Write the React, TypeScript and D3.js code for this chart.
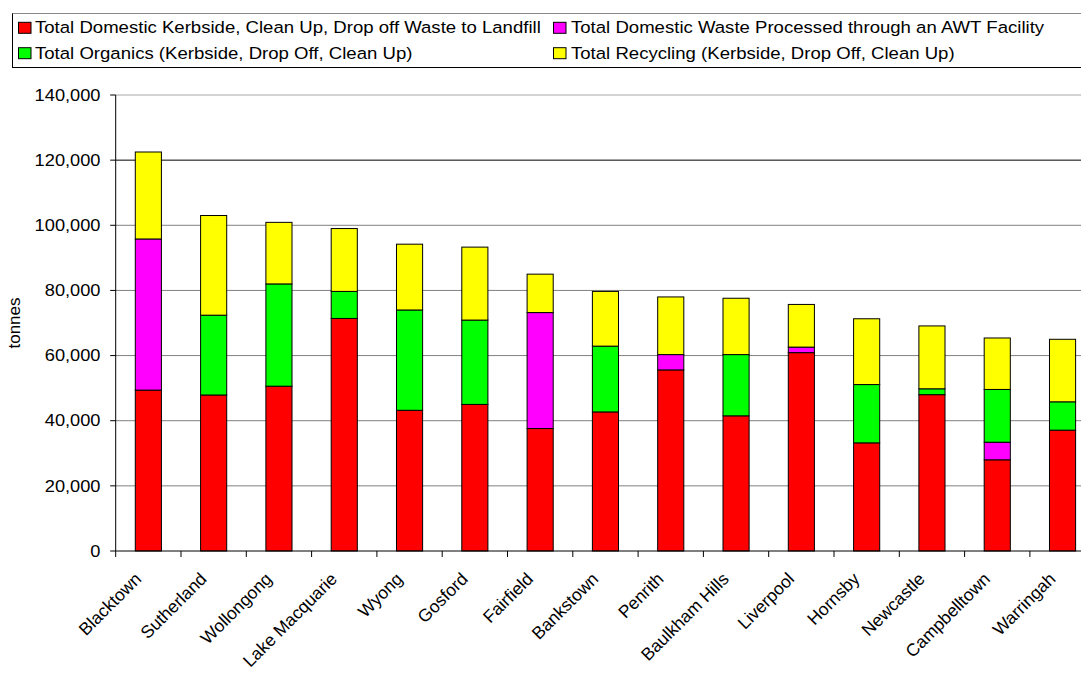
import React from "react";
import * as d3 from "d3";

const councils = [
  "Blacktown", "Sutherland", "Wollongong", "Lake Macquarie", "Wyong", "Gosford",
  "Fairfield", "Bankstown", "Penrith", "Baulkham Hills", "Liverpool", "Hornsby",
  "Newcastle", "Campbelltown", "Warringah",
];

const landfill = [49400, 47900, 50600, 71400, 43200, 45000, 37600, 42700, 55600, 41500, 60900, 33200, 48000, 28000, 37100];
const awt = [46400, 0, 0, 0, 0, 0, 35600, 0, 4700, 0, 1700, 0, 0, 5400, 0];
const organics = [0, 24500, 31400, 8300, 30800, 25900, 0, 20200, 0, 18800, 0, 17900, 1800, 16200, 8700];
const recycling = [26700, 30600, 18900, 19300, 20200, 22400, 11800, 16800, 17700, 17300, 13100, 20200, 19300, 15800, 19200];

const seriesNames = [
  "Total Domestic Kerbside, Clean Up, Drop off Waste to Landfill",
  "Total Domestic Waste Processed through an AWT Facility",
  "Total Organics (Kerbside, Drop Off, Clean Up)",
  "Total Recycling (Kerbside, Drop Off, Clean Up)",
];
const seriesColors = ["#ff0000", "#ff00ff", "#00ff00", "#ffff00"];
const yTicks = [0, 20000, 40000, 60000, 80000, 100000, 120000, 140000];

const W = 1081;
const H = 673;
const FONT = "'Liberation Sans', Arial, sans-serif";
const SX = 1.14;

export default function App() {
  const keys = ["landfill", "awt", "organics", "recycling"];
  const rows = councils.map((c, i) => ({
    name: c,
    landfill: landfill[i],
    awt: awt[i],
    organics: organics[i],
    recycling: recycling[i],
  }));
  const stacked = d3.stack<any>().keys(keys)(rows);

  const x = d3
    .scaleBand<string>()
    .domain(councils)
    .range([115.7, 1095.2])
    .paddingInner(0.6)
    .paddingOuter(0.3);
  const y = d3.scaleLinear().domain([0, 140000]).range([551, 95]);
  const fmt = d3.format(",");
  const step = x.step();
  const x0 = 115.7;

  const gridColor = (v: number) => (v === 140000 ? "#a8a8a8" : v === 120000 ? "#000" : "#808080");

  return (
    <div style={{ position: "fixed", left: 0, top: 0, width: W, height: H, overflow: "hidden", background: "#fff" }}>
      <svg width={W} height={H} style={{ display: "block" }} fontFamily={FONT}>
        <rect x={0} y={0} width={W} height={H} fill="#fff" />
        {yTicks.filter((v) => v > 0).map((v) => (
          <line key={v} x1={x0} x2={W} y1={y(v)} y2={y(v)} stroke={gridColor(v)} strokeWidth={1} />
        ))}
        {stacked.map((s, si) => (
          <g key={s.key}>
            {s.map((d, i) =>
              d[1] - d[0] > 0 ? (
                <rect
                  key={i}
                  x={x(councils[i])}
                  y={y(d[1])}
                  width={x.bandwidth()}
                  height={y(d[0]) - y(d[1])}
                  fill={seriesColors[si]}
                  stroke="#000"
                  strokeWidth={1}
                />
              ) : null
            )}
          </g>
        ))}
        <line x1={x0} x2={x0} y1={95} y2={551} stroke="#000" />
        {yTicks.map((v) => (
          <g key={v}>
            <line x1={x0 - 5.5} x2={x0} y1={y(v)} y2={y(v)} stroke="#000" />
            <text
              transform={`translate(100.5,${y(v) + 5.7}) scale(${SX},1)`}
              textAnchor="end"
              fontSize={16}
              fill="#000"
            >
              {fmt(v)}
            </text>
          </g>
        ))}
        <text transform={`translate(20,323) rotate(-90)`} textAnchor="middle" fontSize={17} fill="#000">
          tonnes
        </text>
        <line x1={x0} x2={W} y1={551} y2={551} stroke="#000" />
        {councils.map((c, i) => (
          <line key={c} x1={x0 + i * step} x2={x0 + i * step} y1={551} y2={557} stroke="#000" />
        ))}
        {councils.map((c) => {
          const cx = (x(c) as number) + x.bandwidth() / 2;
          return (
            <text
              key={c}
              transform={`translate(${cx - 6},580) rotate(-45)`}
              textAnchor="end"
              fontSize={17.5}
              fill="#000"
            >
              {c}
            </text>
          );
        })}
        <rect x={12.5} y={13.5} width={1100} height={54} fill="none" stroke="#000" />
        <line x1={12.5} x2={W} y1={13.5} y2={13.5} stroke="#888" />
        {seriesNames.map((n, i) => {
          const col = i === 0 || i === 2 ? 0 : 1;
          const row = i < 2 ? 0 : 1;
          const sx = col === 0 ? 18.5 : 553.5;
          const tx = col === 0 ? 35 : 571;
          const ty = row === 0 ? 33.3 : 58.7;
          return (
            <g key={n}>
              <rect x={sx} y={ty - 11} width={12.5} height={11} fill={seriesColors[i]} stroke="#000" />
              <text transform={`translate(${tx},${ty}) scale(${SX},1)`} fontSize={16.3} fill="#000">
                {n}
              </text>
            </g>
          );
        })}
      </svg>
    </div>
  );
}
